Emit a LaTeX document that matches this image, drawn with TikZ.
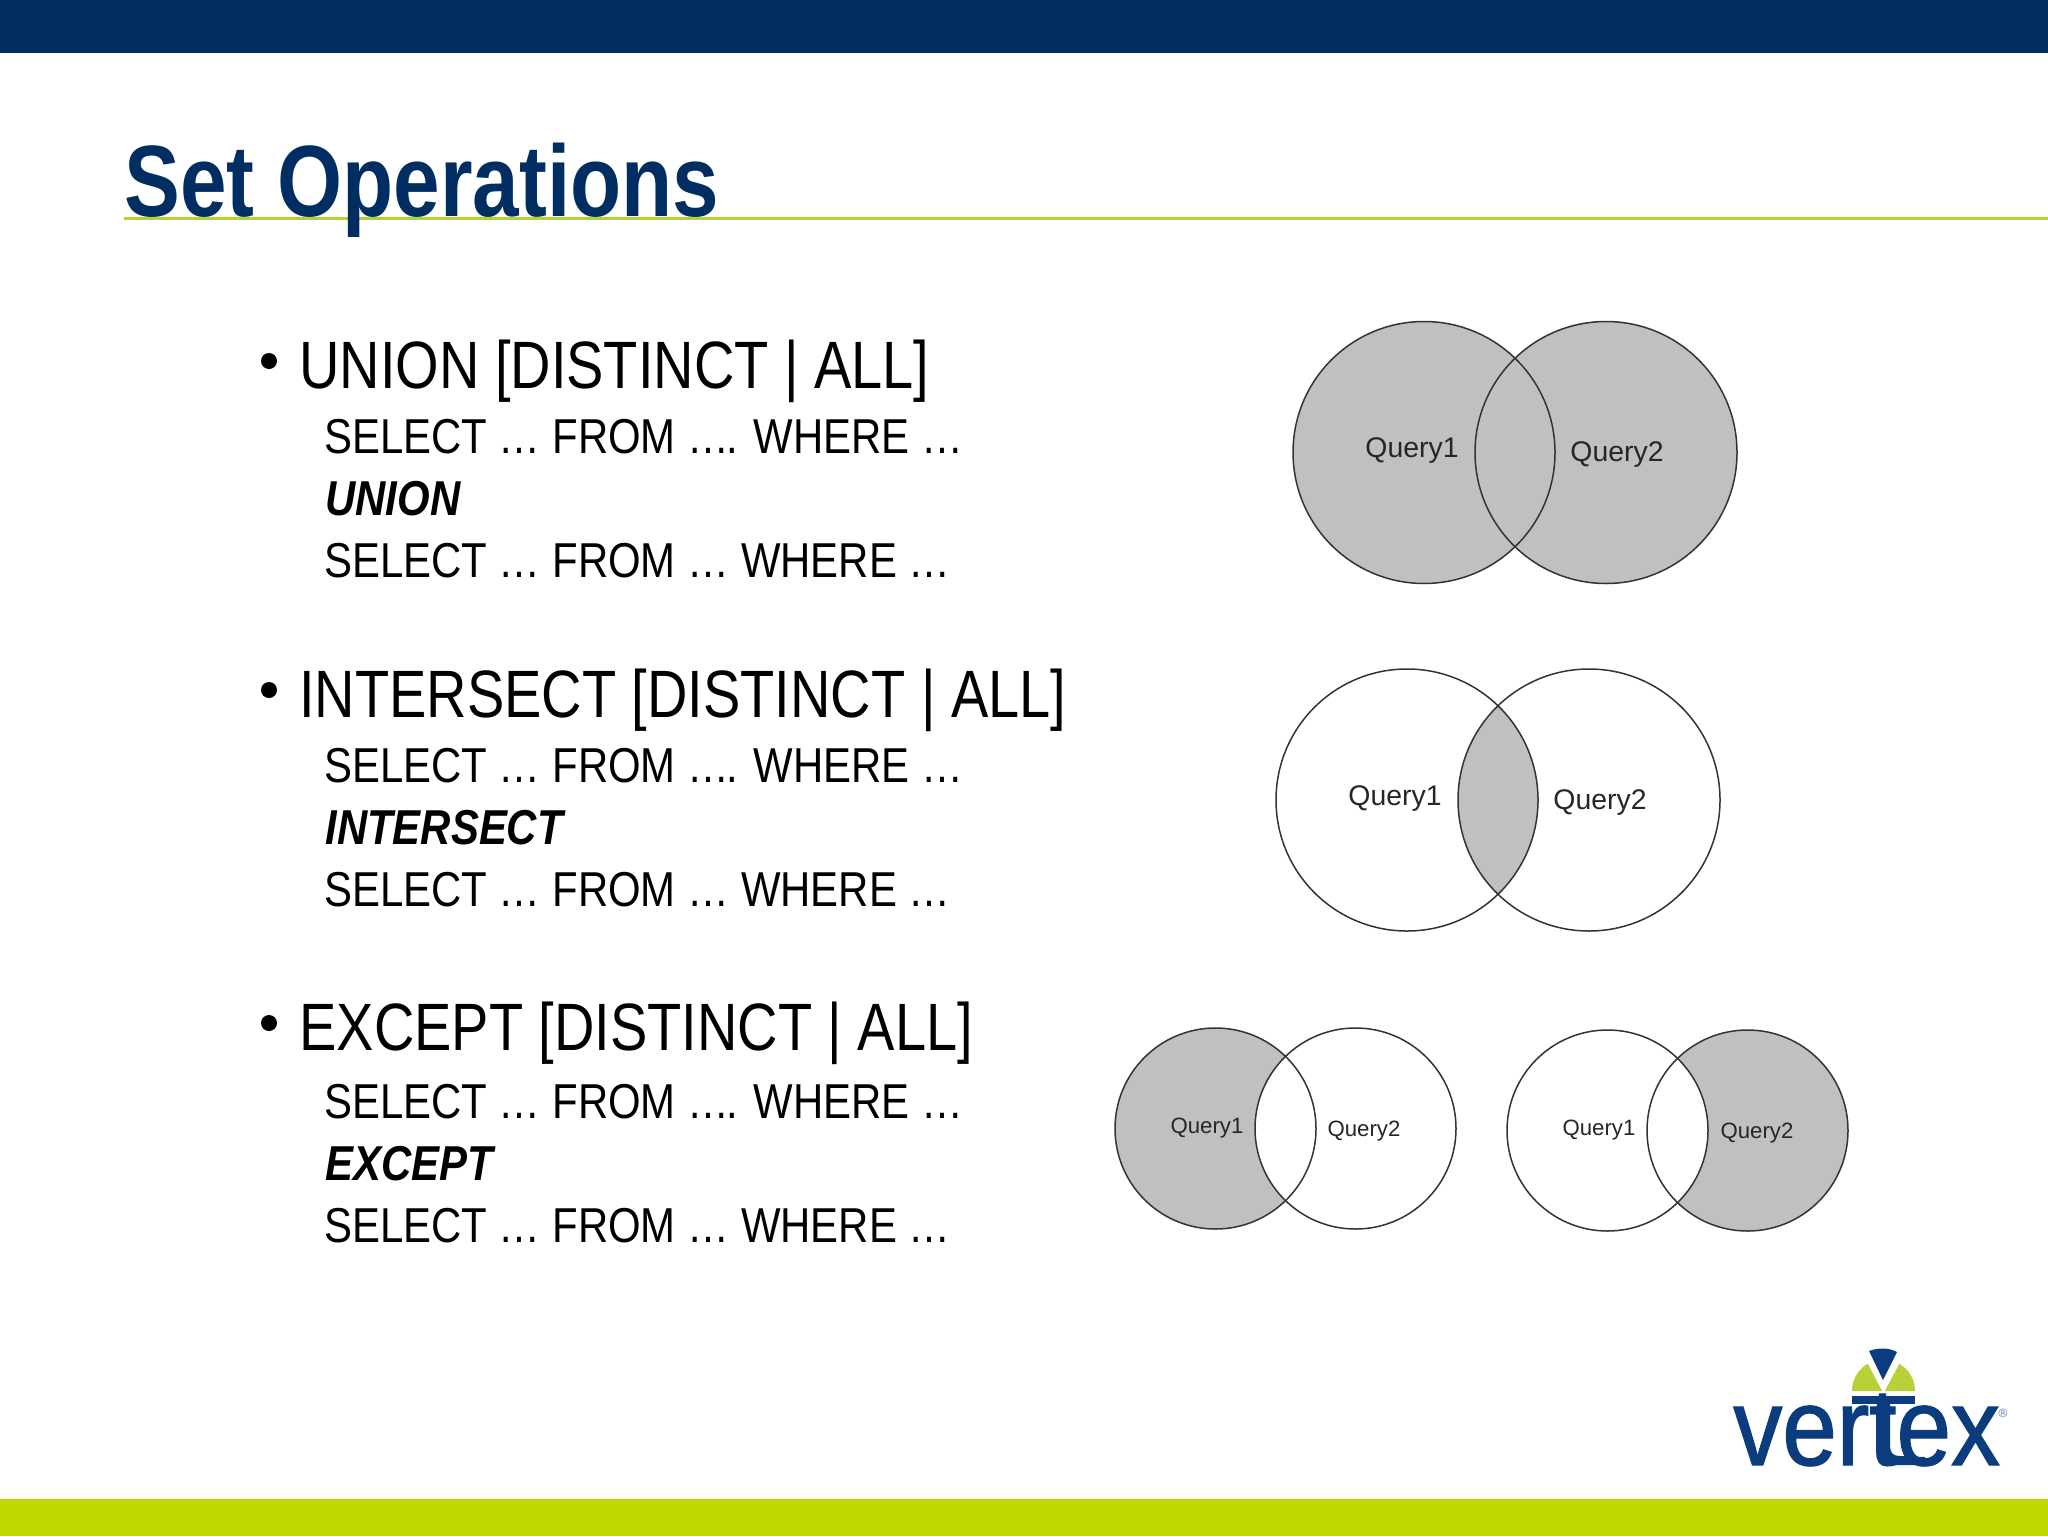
\documentclass[tikz,border=0pt]{standalone}
\usepackage{fontspec}
\setmainfont{Liberation Sans}
\newfontfamily\titlefont[FakeStretch=0.825]{Liberation Sans}
\newfontfamily\headfont[FakeStretch=0.835]{Liberation Sans}
\newfontfamily\subfont[FakeStretch=0.855]{Liberation Sans}
\newfontfamily\logofont[FakeStretch=0.89,FakeBold=1.2]{Liberation Sans}
\definecolor{navy}{HTML}{002D62}
\definecolor{limebar}{HTML}{BFD800}
\definecolor{ruleline}{HTML}{B4D232}
\definecolor{logoblue}{HTML}{0B3D7E}
\definecolor{logogreen}{HTML}{B9D138}
\definecolor{vennfill}{HTML}{C2BFC3}
\definecolor{vennline}{HTML}{333333}
\tikzset{
  x=0.5pt,y=-0.5pt,
  titletext/.style={anchor=base west,inner sep=0pt,text=navy,font=\titlefont\bfseries\fontsize{50.7}{50.7}\selectfont},
  headtext/.style={anchor=base west,inner sep=0pt,text=black,font=\headfont\fontsize{33.5}{33.5}\selectfont},
  subtext/.style={anchor=base west,inner sep=0pt,text=black,font=\subfont\fontsize{24.5}{24.5}\selectfont},
  kwtext/.style={anchor=base west,inner sep=0pt,text=black,font=\subfont\bfseries\itshape\fontsize{24.5}{24.5}\selectfont},
  bulletdot/.style={circle,fill=black,draw=none,inner sep=0pt,minimum size=8pt},
  bigq/.style={inner sep=0pt,text=black!85,font=\fontsize{14.2}{14.2}\selectfont},
  smallq/.style={inner sep=0pt,text=black!85,font=\fontsize{11.1}{11.1}\selectfont},
  vennring/.style={draw=vennline,line width=0.75pt},
}
\newcommand{\bigrad}{131}
\newcommand{\smallrad}{100.5}
\begin{document}
\begin{tikzpicture}
\useasboundingbox (0,0) rectangle (2048,1536);
\fill[navy] (0,0) rectangle (2048,53);
\fill[limebar] (0,1499) rectangle (2048,1536);
\coordinate (ruleA) at (124,218.5);
\coordinate (ruleB) at (2048,218.5);
\draw[ruleline,line width=1.1pt] (ruleA) -- (ruleB);
\node[titletext] (title) at (124,216) {Set Operations};

% UNION
\node[bulletdot] (b1) at (269,361) {};
\node[headtext] (h1) at (299,388) {UNION [DISTINCT | ALL]};
\node[subtext] (s1a) at (324,453) {SELECT … FROM …\kern-1.5pt. WHERE …};
\node[kwtext] (s1b) at (325,515) {UNION};
\node[subtext] (s1c) at (324,577) {SELECT … FROM … WHERE …};
% INTERSECT
\node[bulletdot] (b2) at (269,690) {};
\node[headtext] (h2) at (299,717) {INTERSECT [DISTINCT | ALL]};
\node[subtext] (s2a) at (324,782) {SELECT … FROM …\kern-1.5pt. WHERE …};
\node[kwtext] (s2b) at (325,844) {INTERSECT};
\node[subtext] (s2c) at (324,906) {SELECT … FROM … WHERE …};
% EXCEPT
\node[bulletdot] (b3) at (269,1023) {};
\node[headtext] (h3) at (299,1050) {EXCEPT [DISTINCT | ALL]};
\node[subtext] (s3a) at (324,1118) {SELECT … FROM …\kern-1.5pt. WHERE …};
\node[kwtext] (s3b) at (325,1180) {EXCEPT};
\node[subtext] (s3c) at (324,1242) {SELECT … FROM … WHERE …};

% Union venn
\fill[vennfill] (1424,452.5) circle[radius=\bigrad];
\fill[vennfill] (1606,452.5) circle[radius=\bigrad];
\draw[vennring] (1424,452.5) circle[radius=\bigrad];
\draw[vennring] (1606,452.5) circle[radius=\bigrad];
\node[bigq] (u1) at (1412,451) {Query1};
\node[bigq] (u2) at (1617,455) {Query2};

% Intersect venn
\begin{scope}
\clip (1407,800) circle[radius=\bigrad];
\fill[vennfill] (1589,800) circle[radius=\bigrad];
\end{scope}
\draw[vennring] (1407,800) circle[radius=\bigrad];
\draw[vennring] (1589,800) circle[radius=\bigrad];
\node[bigq] (i1) at (1395,799) {Query1};
\node[bigq] (i2) at (1600,803) {Query2};

% Except left
\fill[vennfill] (1215.5,1128.5) circle[radius=\smallrad];
\fill[white] (1355.5,1128.5) circle[radius=\smallrad];
\draw[vennring] (1215.5,1128.5) circle[radius=\smallrad];
\draw[vennring] (1355.5,1128.5) circle[radius=\smallrad];
\node[smallq] (e1) at (1207,1128) {Query1};
\node[smallq] (e2) at (1364,1131) {Query2};

% Except right
\fill[vennfill] (1747.5,1130.5) circle[radius=\smallrad];
\fill[white] (1607.5,1130.5) circle[radius=\smallrad];
\draw[vennring] (1607.5,1130.5) circle[radius=\smallrad];
\draw[vennring] (1747.5,1130.5) circle[radius=\smallrad];
\node[smallq] (f1) at (1599,1130) {Query1};
\node[smallq] (f2) at (1757,1133) {Query2};

% Logo
\fill[logogreen] (1852,1391) arc[start angle=180,end angle=360,radius=31.5] -- cycle;
\fill[white] (1866,1355) -- (1883.5,1388) -- (1901,1355) -- cycle;
\draw[white,line width=1.5pt] (1866,1357) -- (1883.5,1390) -- (1883.5,1392) (1883.5,1390) -- (1901,1357);
\fill[logoblue] (1869,1351) .. controls (1878,1347.5) and (1889,1347.5) .. (1897,1352) -- (1883,1380) -- cycle;
\node[anchor=base west,inner sep=0pt,text=logoblue,font=\logofont\fontsize{55}{55}\selectfont] (logo) at (1733,1465) {vertex};
\fill[logoblue] (1852,1396) rectangle (1915,1403.5);
\fill[logoblue] (1878,1396) -- (1890,1396) -- (1890,1445) .. controls (1890,1453) and (1893,1456) .. (1900,1456) -- (1925,1457) -- (1925,1465) -- (1897,1465) .. controls (1885,1465) and (1878,1458) .. (1878,1445) -- cycle;
\node[inner sep=0pt,text=logoblue!70,font=\fontsize{6}{6}\selectfont] (reg) at (2003,1413) {®};
\end{tikzpicture}
\end{document}
